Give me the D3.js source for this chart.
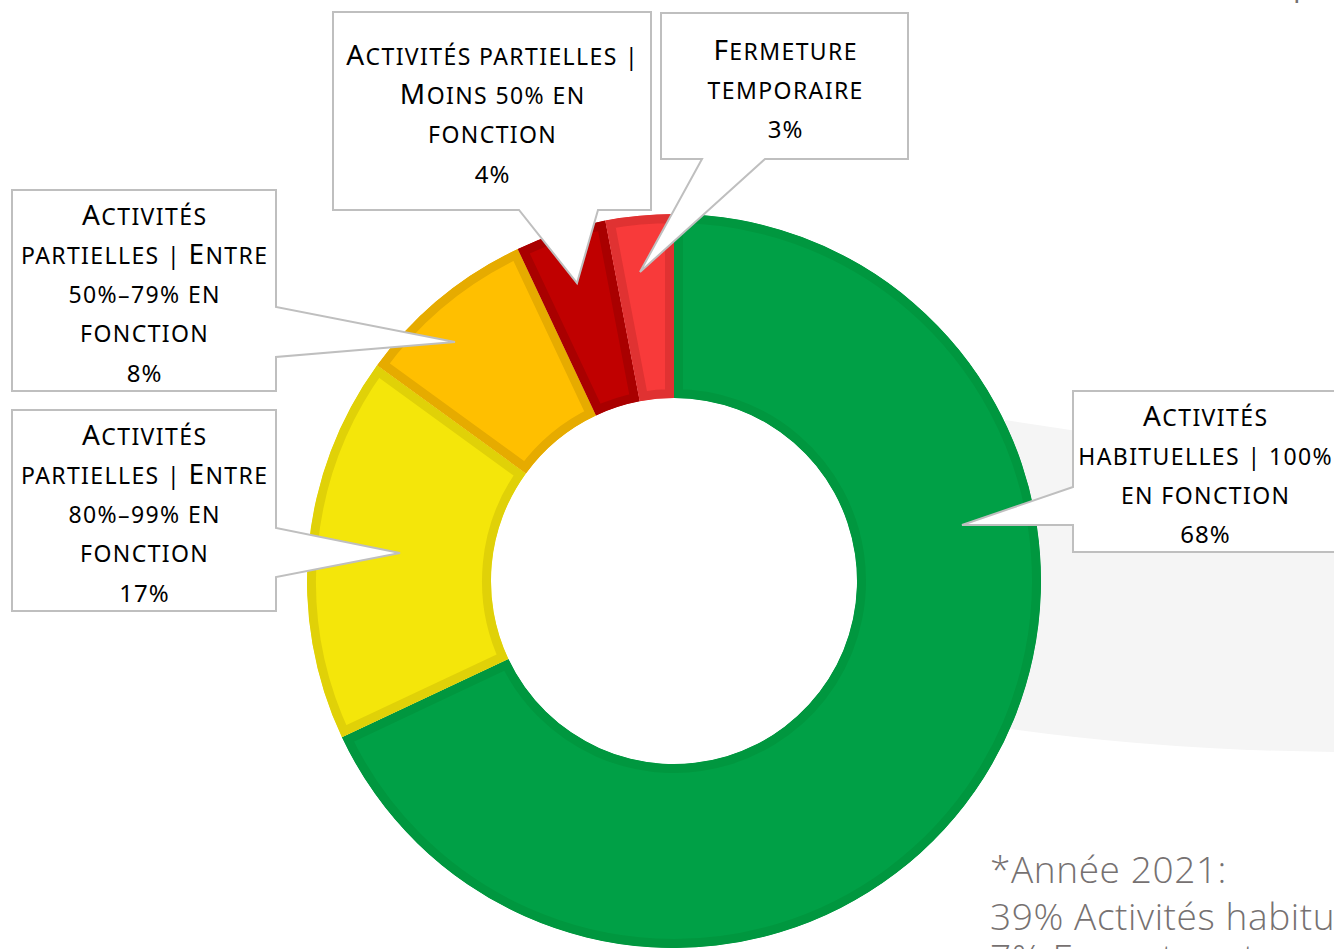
<!DOCTYPE html>
<html>
<head>
<meta charset="utf-8">
<script src="https://cdn.jsdelivr.net/npm/d3@7"></script>
<style>
  html, body { margin: 0; padding: 0; background: #fff; overflow: hidden; }
  svg { display: block; }
</style>
</head>
<body>
<div id="chart"></div>
<script>
var width = 1334,
    height = 949;

// data
var categories = [
  "Activités habituelles | 100% en fonction",
  "Activités partielles | Entre 80%–99% en fonction",
  "Activités partielles | Entre 50%–79% en fonction",
  "Activités partielles | Moins 50% en fonction",
  "Fermeture temporaire"
];
var values = [68, 17, 8, 4, 3];
var fills = ["#00A046", "#F4E60A", "#FFBF00", "#C00000", "#F83A3A"];
var edges = ["#00973F", "#E0D108", "#E6AB00", "#A90000", "#E03232"];

// label text, one entry per slice (lines as drawn in the callouts)
var labelLines = [
  ["Activités", "habituelles | 100%", "en fonction"],
  ["Activités", "partielles | Entre", "80%–99% en", "fonction"],
  ["Activités", "partielles | Entre", "50%–79% en", "fonction"],
  ["Activités partielles |", "Moins 50% en", "fonction"],
  ["Fermeture", "temporaire"]
];
var noteLines = ["*Année 2021:", "39% Activités habituelles", "7% Fermeture temporaire"];

// callout layout: box [x0,y0,x1,y1], pointer base, tip, text centre x
var callouts = [
  { box: [1073, 391, 1350, 552], base: [[1073, 487], [1073, 525]], tip: [962, 525], mx: 1205 },
  { box: [12, 410, 276, 611], base: [[276, 528], [276, 577]], tip: [400, 553], mx: 144 },
  { box: [12, 190, 276, 391], base: [[276, 307], [276, 357]], tip: [455, 342], mx: 144 },
  { box: [333, 12, 651, 210], base: [[519, 210], [598, 210]], tip: [577, 283], mx: 492 },
  { box: [661, 13, 908, 159], base: [[702, 159], [765, 159]], tip: [640, 272], mx: 785 }
];

var cx = 674, cy = 581, outerR = 367, innerR = 183;

var svg = d3.select('#chart').append('svg')
  .attr('width', width)
  .attr('height', height);

// soft grey shadow at the right side
svg.append('path')
  .attr('d', "M1005,420 L1334,470 L1334,752 Q1150,750 990,726 Z")
  .attr('fill', '#f5f5f5');

var pie = d3.pie().sort(null).value(function(d) { return d; });
var arc = d3.arc().innerRadius(innerR).outerRadius(outerR);
var arcs = pie(values);

var g = svg.append('g').attr('transform', 'translate(' + cx + ',' + cy + ')');
var defs = svg.append('defs');

arcs.forEach(function(a, i) {
  defs.append('clipPath').attr('id', 'clip' + i)
    .append('path').attr('d', arc(a));
});

// darker band inside each slice: double-width stroke clipped to the slice
g.selectAll('.slice').data(arcs).enter().append('path')
  .attr('class', 'slice')
  .attr('d', arc)
  .attr('fill', function(d, i) { return fills[i]; })
  .attr('stroke', function(d, i) { return edges[i]; })
  .attr('stroke-width', 18)
  .attr('clip-path', function(d, i) { return 'url(#clip' + i + ')'; });

// callouts
var font = "'Noto Sans', sans-serif";
var lineH = 39;

function addSmallCaps(textSel, str, bigSize, smallSize) {
  // upper-case letters big, lower-case letters as small capitals
  var parts = [];
  for (var k = 0; k < str.length; k++) {
    var ch = str[k];
    var isLower = ch !== ch.toUpperCase();
    var size = isLower ? smallSize : (/[A-ZÀ-Ý]/.test(ch) ? bigSize : smallSize);
    if (parts.length && parts[parts.length - 1].size === size) parts[parts.length - 1].t += ch.toUpperCase();
    else parts.push({ t: ch.toUpperCase(), size: size });
  }
  parts.forEach(function(p) {
    textSel.append('tspan').attr('font-size', p.size).text(p.t);
  });
}

var cg = svg.append('g');
callouts.forEach(function(c, i) {
  var b = c.box;
  var outline;
  if (c.base[0][0] === b[0] && c.base[1][0] === b[0]) {
    outline = [[b[0], b[1]], [b[2], b[1]], [b[2], b[3]], [b[0], b[3]], c.base[1], c.tip, c.base[0]];
  } else if (c.base[0][0] === b[2]) {
    outline = [[b[0], b[1]], [b[2], b[1]], c.base[0], c.tip, c.base[1], [b[2], b[3]], [b[0], b[3]]];
  } else {
    outline = [[b[0], b[1]], [b[2], b[1]], [b[2], b[3]], c.base[1], c.tip, c.base[0], [b[0], b[3]]];
  }
  cg.append('path')
    .attr('d', 'M' + outline.join('L') + 'Z')
    .attr('fill', '#fff')
    .attr('stroke', '#BFBFBF')
    .attr('stroke-width', 2);

  var lines = labelLines[i];
  var total = lines.length + 1;
  var startY = (b[1] + b[3]) / 2 - (total - 1) * lineH / 2 + 7;
  lines.forEach(function(l, j) {
    var t = cg.append('text')
      .attr('x', c.mx + 0.7)
      .attr('y', startY + j * lineH)
      .attr('dy', '0.35em')
      .attr('text-anchor', 'middle')
      .attr('font-family', font)
      .attr('letter-spacing', 1.4)
      .attr('fill', '#000');
    addSmallCaps(t, l, 28, 23);
  });
  cg.append('text')
    .attr('x', c.mx + 0.5)
    .attr('y', startY + lines.length * lineH - 2)
    .attr('dy', '0.35em')
    .attr('text-anchor', 'middle')
    .attr('font-family', font)
    .attr('font-size', 24)
    .attr('letter-spacing', 1)
    .attr('fill', '#000')
    .text(values[i] + '%');
});

// note at bottom right
var noteY = [883, 930, 971];
svg.selectAll('.note').data(noteLines).enter().append('text')
  .attr('class', 'note')
  .attr('x', 990)
  .attr('y', function(d, i) { return noteY[i]; })
  .attr('font-family', "'Open Sans', sans-serif")
  .attr('font-weight', 300)
  .attr('font-size', 37)
  .attr('letter-spacing', 0.6)
  .attr('fill', '#767171')
  .text(function(d) { return d; });

svg.append('text')
  .attr('x', 1293)
  .attr('y', -4)
  .attr('font-family', "'Open Sans', sans-serif")
  .attr('font-size', 30)
  .attr('fill', '#767171')
  .text('p');
</script>
</body>
</html>
